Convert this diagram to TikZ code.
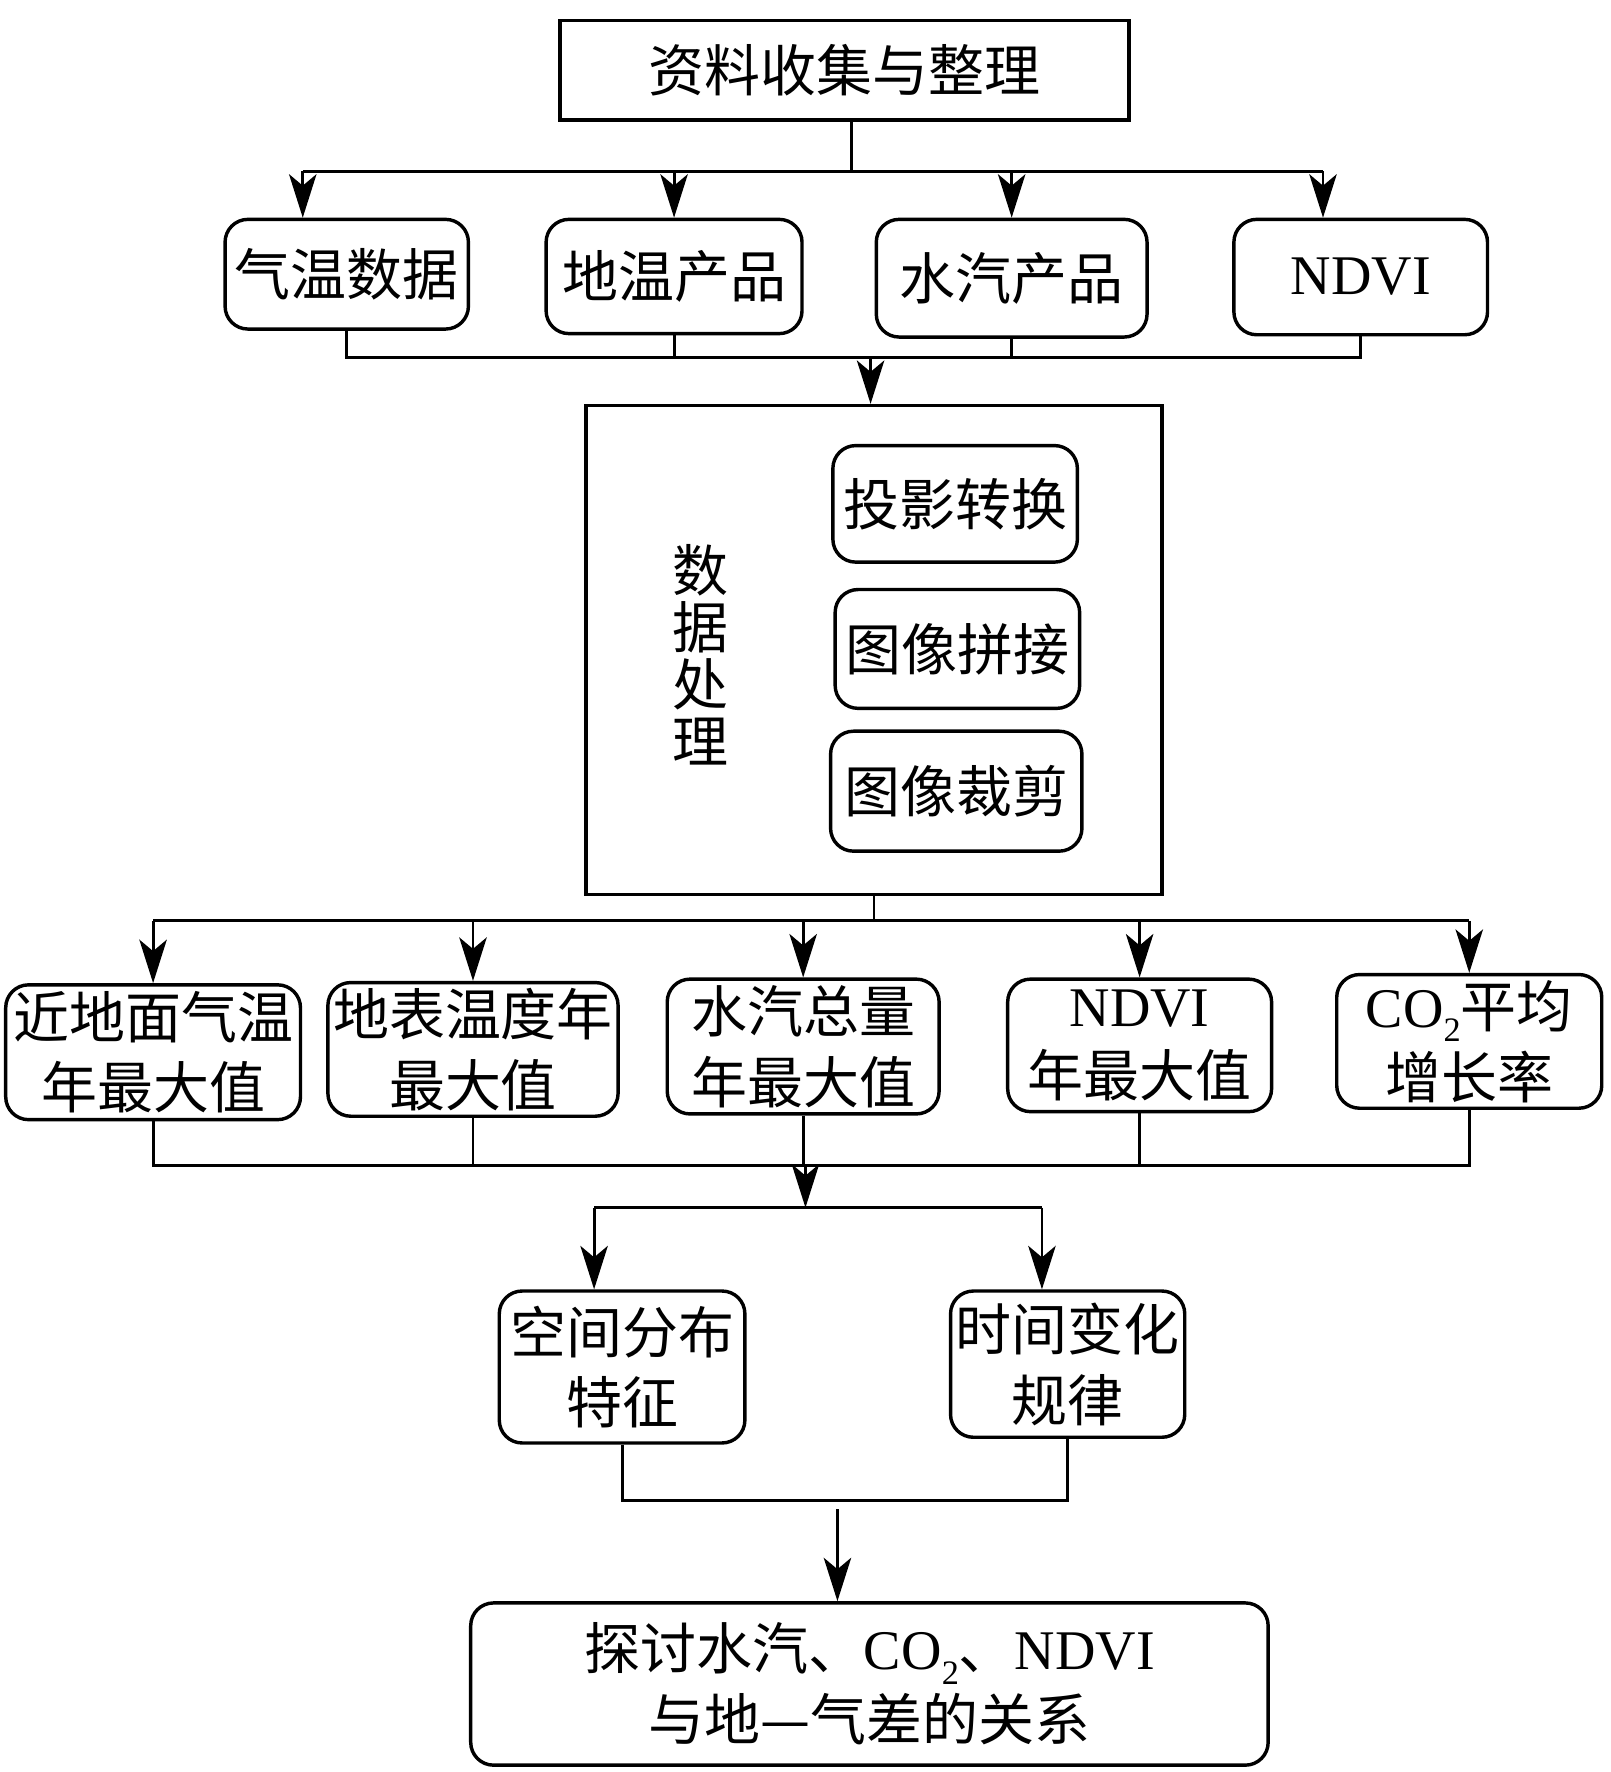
\documentclass[tikz,border=0pt]{standalone}
\usepackage{fontspec}
\setmainfont{Noto Sans CJK SC}
\newfontfamily\lat{Liberation Serif}
\usetikzlibrary{arrows.meta}
\newcommand\subtwo{\raisebox{-0.55ex}{\fontsize{30}{30}\selectfont 2}}
\begin{document}
\begin{tikzpicture}[x=1pt,y=-1pt,
  box/.style={draw, line width=3pt, rounded corners=20pt, inner sep=0pt, align=center, font=\fontsize{49}{62}\selectfont},
  sqbox/.style={draw, line width=3pt, inner sep=0pt, align=center, font=\fontsize{49}{62}\selectfont},
  conn/.style={line width=2.5pt},
  arr/.style={line width=2.5pt, -{Stealth[length=38pt,width=24pt,inset=10pt]}}
]
\fill[white] (0,0) rectangle (1410,1551);
\useasboundingbox (0,0) rectangle (1410,1551);

% top
\node[sqbox, minimum width=498pt, minimum height=87pt] (top) at (739,61.5) {资料收集与整理};

% row 1
\node[box, minimum width=213pt, minimum height=96pt] (r1a) at (303.5,240) {气温数据};
\node[box, minimum width=224pt, minimum height=100pt] (r1b) at (590,242) {地温产品};
\node[box, minimum width=237pt, minimum height=103pt] (r1c) at (885.5,243.5) {水汽产品};
\node[box, minimum width=222pt, minimum height=101pt] (r1d) at (1191,242.5) {{\lat NDVI}};

% processing
\node[sqbox, minimum width=504pt, minimum height=428pt] (proc) at (765,569) {};
\node[align=center, inner sep=0pt, font=\fontsize{49}{50}\selectfont] (vt) at (613,573) {数\\据\\处\\理};
\node[box, minimum width=214pt, minimum height=102pt] (s1) at (836,441) {投影转换};
\node[box, minimum width=214pt, minimum height=104pt] (s2) at (838,568) {图像拼接};
\node[box, minimum width=220pt, minimum height=105pt] (s3) at (837,692.5) {图像裁剪};

% row 3
\node[box, minimum width=258pt, minimum height=118pt] (r3a) at (134,921) {近地面气温\\年最大值};
\node[box, minimum width=254pt, minimum height=117pt] (r3b) at (414,918.5) {地表温度年\\最大值};
\node[box, minimum width=238pt, minimum height=118pt] (r3c) at (703,916) {水汽总量\\年最大值};
\node[box, minimum width=231pt, minimum height=116pt] (r3d) at (997.5,915) {{\lat NDVI}\\年最大值};
\node[box, minimum width=232pt, minimum height=117pt] (r3e) at (1286,911.5) {{\lat CO\subtwo}平均\\增长率};

% row 4
\node[box, minimum width=215pt, minimum height=133pt] (sp) at (544.5,1196.5) {空间分布\\特征};
\node[box, minimum width=205pt, minimum height=128pt] (tm) at (934.5,1194) {时间变化\\规律};

% final
\node[box, minimum width=698pt, minimum height=142pt] (fin) at (761,1474) {探讨水汽、{\lat CO\subtwo}、{\lat NDVI}\\与地—气差的关系};

% connectors top -> row 1
\coordinate (j1) at (745,150);
\coordinate (a1) at (265,150);
\coordinate (d1) at (1158,150);
\draw[conn] (top.south -| j1) -- (j1);
\draw[conn] (a1) -- (d1);
\draw[arr] (a1) -- (a1 |- r1a.north);
\draw[arr] (r1b.north |- j1) -- (r1b.north);
\draw[arr] (r1c.north |- j1) -- (r1c.north);
\draw[arr] (d1) -- (d1 |- r1d.north);

% row 1 -> processing
\coordinate (m1) at (762,313);
\draw[conn] (r1a.south) -- (r1a.south |- m1) -- (r1d.south |- m1) -- (r1d.south);
\draw[conn] (r1b.south) -- (r1b.south |- m1);
\draw[conn] (r1c.south) -- (r1c.south |- m1);
\draw[arr] (m1) -- (m1 |- proc.north);

% processing -> row 3
\coordinate (j2) at (765,806);
\draw[conn] (proc.south -| j2) -- (j2);
\draw[conn] (r3a.north |- j2) -- (r3e.north |- j2);
\draw[arr] (r3a.north |- j2) -- (r3a.north);
\draw[arr] (r3b.north |- j2) -- (r3b.north);
\draw[arr] (r3c.north |- j2) -- (r3c.north);
\draw[arr] (r3d.north |- j2) -- (r3d.north);
\draw[arr] (r3e.north |- j2) -- (r3e.north);

% row 3 -> row 4
\coordinate (j3) at (705,1020);
\coordinate (j4) at (705,1057);
\coordinate (sl) at (520,1057);
\coordinate (sr) at (912,1057);
\draw[conn] (r3a.south) -- (r3a.south |- j3) -- (r3e.south |- j3) -- (r3e.south);
\draw[conn] (r3b.south) -- (r3b.south |- j3);
\draw[conn] (r3c.south) -- (r3c.south |- j3);
\draw[conn] (r3d.south) -- (r3d.south |- j3);
\draw[arr] (j3) -- (j4);
\draw[conn] (sl) -- (sr);
\draw[arr] (sl) -- (sl |- sp.north);
\draw[arr] (sr) -- (sr |- tm.north);

% row 4 -> final
\coordinate (j5) at (733,1313);
\coordinate (j6) at (733,1321);
\draw[conn] (sp.south) -- (sp.south |- j5) -- (tm.south |- j5) -- (tm.south);
\draw[arr] (j6) -- (j6 |- fin.north);
\end{tikzpicture}
\end{document}
